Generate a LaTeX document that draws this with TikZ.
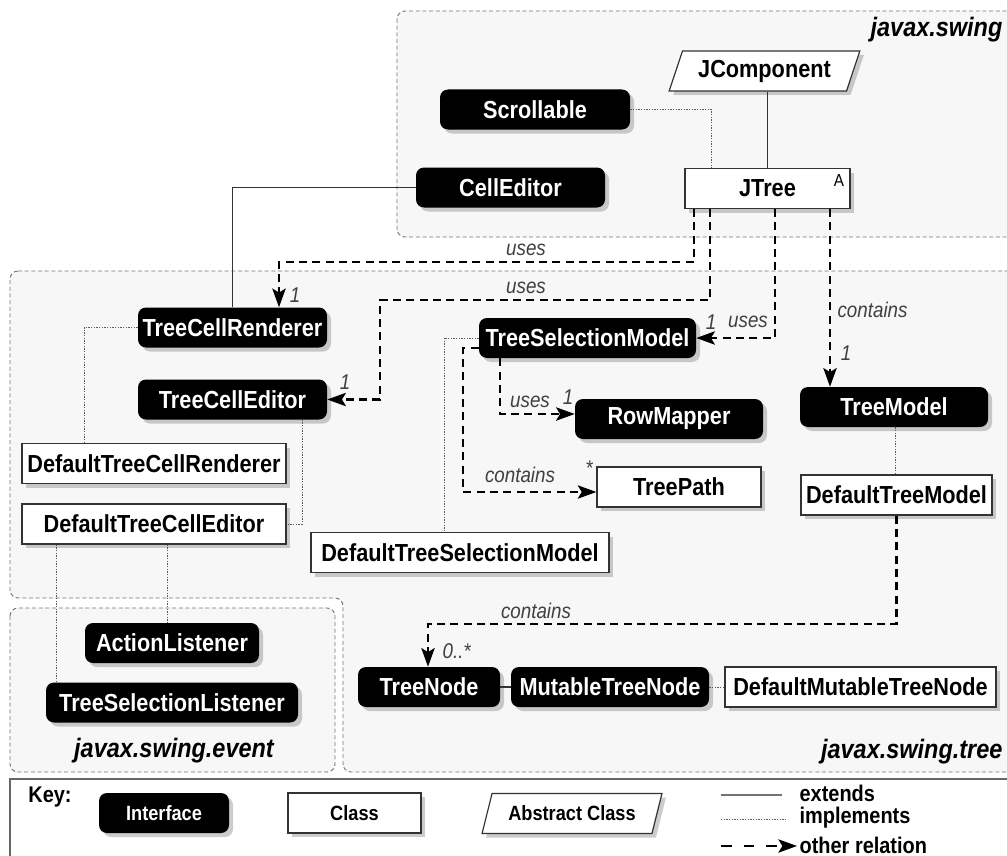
\documentclass[tikz,border=0pt]{standalone}
\usepackage{fontspec}
\setmainfont{Liberation Sans}[FakeStretch=0.88]
\usetikzlibrary{arrows.meta,shapes.geometric,shadows,calc}

\tikzset{
  pkg/.style={draw=black!55, fill=black!3, dash pattern=on 3pt off 2pt, line width=0.7pt, rounded corners=6pt},
  box/.style={minimum height=30pt, inner sep=2pt, font=\bfseries\fontsize{18.5}{20}\selectfont,
    drop shadow={shadow xshift=3pt, shadow yshift=-3pt, fill=black!40, opacity=.5}},
  iface/.style={box, fill=black, text=white, rounded corners=6pt},
  cls/.style={box, draw=black!80, fill=white, line width=0.9pt},
  abs/.style={cls, trapezium, trapezium left angle=68, trapezium right angle=112, trapezium stretches=true},
  wd/.style={minimum width=#1*0.75pt},
  keyfont/.style={font=\bfseries\fontsize{15.5}{17}\selectfont},
  legfont/.style={font=\bfseries\fontsize{17}{18}\selectfont, inner sep=1pt},
  ext/.style={draw=black!80, line width=0.8pt},
  impl/.style={draw=black!65, line width=0.7pt, dash pattern=on 1pt off 1pt},
  rel/.style={draw=black, line width=1.6pt, dash pattern=on 6pt off 4pt, -{Stealth[length=14pt,width=10pt,inset=3pt]}},
  lbl/.style={font=\itshape\fontsize{16}{18}\selectfont, text=black!75, inner sep=1pt},
  pkgname/.style={font=\bfseries\itshape\fontsize{20}{22}\selectfont, inner sep=1pt},
}

\begin{document}
\begin{tikzpicture}[x=0.75pt, y=-0.75pt]
\path[use as bounding box, clip] (0,0) rectangle (1007,856);

% packages
\draw[pkg] (397,11) rectangle (1025,237);
\draw[pkg] (10,271) -- (1025,271) -- (1025,772) -- (343,772) -- (343,598) -- (10,598) -- cycle;
\draw[pkg] (10,608) rectangle (335,772);
\node[pkgname, anchor=east] (pswing) at (1004,30) {javax.swing};
\node[pkgname, anchor=east] (ptree) at (1004,752) {javax.swing.tree};
\node[pkgname] (pevent) at (174,751) {javax.swing.event};

% javax.swing
\node[abs, wd=191] (jc) at (764.5,71) {JComponent};
\node[iface, wd=190] (scr) at (535,109.5) {Scrollable};
\node[iface, wd=189] (ce) at (510.5,187.5) {CellEditor};
\node[cls, wd=165] (jtree) at (767.5,188.5) {JTree};
\node[font=\fontsize{13}{14}\selectfont, inner sep=0pt] (abst) at (839,181) {A};

% javax.swing.tree
\node[iface, wd=189] (tcr) at (232.5,327.5) {TreeCellRenderer};
\node[iface, wd=189] (tce) at (232.5,399.5) {TreeCellEditor};
\node[cls, wd=264] (dtcr) at (154,463.5) {DefaultTreeCellRenderer};
\node[cls, wd=264] (dtce) at (154,524) {DefaultTreeCellEditor};
\node[iface, wd=217] (tsm) at (587.5,338) {TreeSelectionModel};
\node[iface, wd=188] (rm) at (669,419) {RowMapper};
\node[cls, wd=164] (tp) at (679,487) {TreePath};
\node[cls, wd=298] (dtsm) at (460,552.5) {DefaultTreeSelectionModel};
\node[iface, wd=188] (tm) at (894,407) {TreeModel};
\node[cls, wd=191] (dtm) at (896.5,495) {DefaultTreeModel};
\node[iface, wd=142] (tn) at (429,687) {TreeNode};
\node[iface, wd=198] (mtn) at (610,687) {MutableTreeNode};
\node[cls, wd=271] (dmtn) at (860.5,687) {DefaultMutableTreeNode};

% javax.swing.event
\node[iface, wd=174] (al) at (172,643) {ActionListener};
\node[iface, wd=252] (tsl) at (172,702.5) {TreeSelectionListener};

% extends
\draw[ext] (jc.south -| jtree.north) -- (jtree.north);
\draw[ext] (ce.west) -| (tcr.north);
\draw[ext] (tn.east) -- (mtn.west);

% implements
\draw[impl] (scr.east) -| (jtree.north -| 711,0);
\draw[impl] (tcr.west) -| (dtcr.north -| 84,0);
\draw[impl] (tce.south -| 302,0) |- (dtce.east);
\draw[impl] (dtce.south -| 167,0) -- (al.north -| 167,0);
\draw[impl] (dtce.south -| 56,0) -- (tsl.north -| 56,0);
\draw[impl] (tsm.west) -| (dtsm.north -| 444,0);
\draw[impl] (tm.south -| 895,0) -- (dtm.north -| 895,0);
\draw[impl] (mtn.east) -- (dmtn.west);

% other relations
\draw[rel] (jtree.south -| 694,0) |- (279,262) -- (tcr.north -| 279,0);
\draw[rel] (jtree.south -| 710,0) |- (380,300) |- (tce.east);
\draw[rel] (jtree.south -| 775,0) |- (tsm.east);
\draw[rel] (jtree.south -| 830,0) -- (tm.north -| 830,0);
\draw[rel] (tsm.south -| 500,0) |- (rm.west |- 0,414);
\draw[rel] (tsm.west |- 0,348) -| (463,492) -- (tp.west |- 0,492);
\draw[rel] (dtm.south) |- (428,624) -- (tn.north -| 428,0);

% relation labels
\node[lbl] (u1) at (526,250) {uses};
\node[lbl] (u2) at (526,288) {uses};
\node[lbl] (u3) at (748,322) {uses};
\node[lbl] (u4) at (530,402) {uses};
\node[lbl, anchor=west] (c1) at (836,310) {contains};
\node[lbl] (c2) at (520,475) {contains};
\node[lbl] (c3) at (536,611) {contains};
\node[lbl] (m1) at (295,295) {1};
\node[lbl] (m2) at (345,382) {1};
\node[lbl] (m3) at (711,322) {1};
\node[lbl] (m4) at (846,353) {1};
\node[lbl] (m5) at (568,397) {1};
\node[lbl] (m6) at (589,468) {*};
\node[lbl, anchor=west] (m7) at (441,651) {0..*};

% key
\draw[black!60, line width=1.2pt] (10,779) rectangle (1025,870);
\node[font=\bfseries\fontsize{17}{19}\selectfont] (key) at (50,797) {Key:};
\node[iface, keyfont, wd=130] (kif) at (164,813) {Interface};
\node[cls, keyfont, wd=133] (kcl) at (354.5,813) {Class};
\node[abs, keyfont, wd=180] (kab) at (572,813.5) {Abstract Class};
\coordinate (ke1) at (721,795); \coordinate (ke2) at (782,795);
\coordinate (ki1) at (721,819); \coordinate (ki2) at (786,819);
\coordinate (ko1) at (721,846); \coordinate (ko2) at (797,846);
\draw[ext, black!55] (ke1) -- (ke2);
\draw[impl] (ki1) -- (ki2);
\draw[rel, line width=1.4pt, dash pattern=on 8pt off 9pt] (ko1) -- (ko2);
\node[legfont, anchor=west] (kext) at (798,793) {extends};
\node[legfont, anchor=west] (kimp) at (798,818) {implements};
\node[legfont, anchor=west] (koth) at (798,845) {other relation};
\end{tikzpicture}
\end{document}
